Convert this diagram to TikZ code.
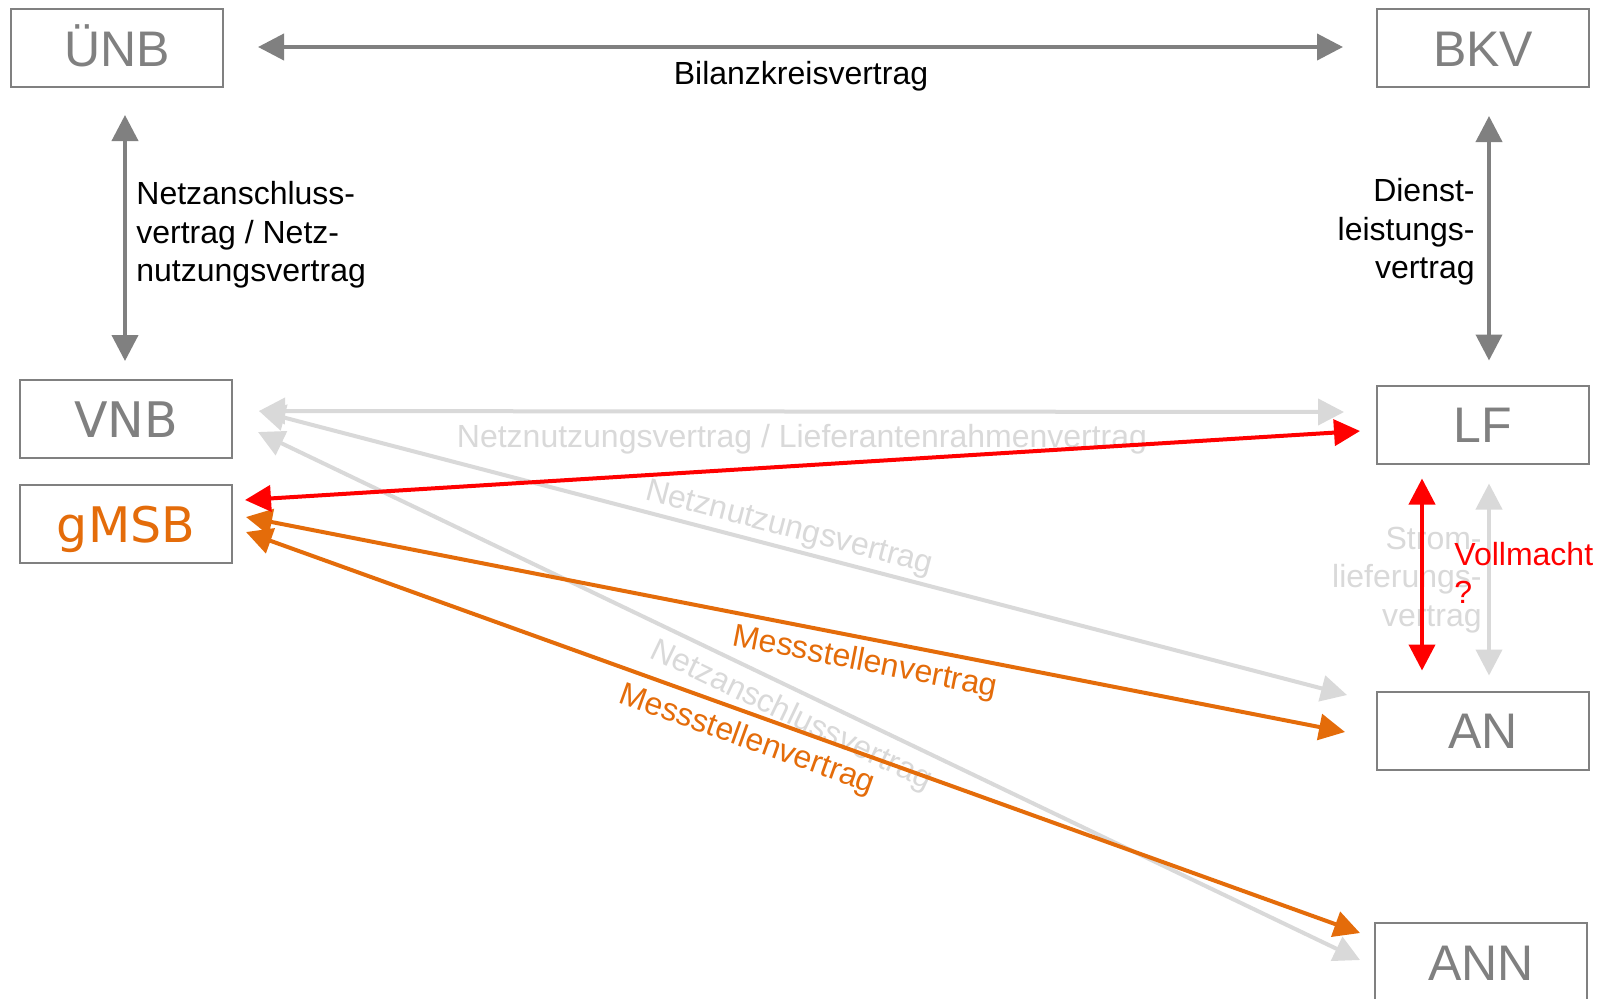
\documentclass[tikz,border=0pt]{standalone}
\usepackage{fontspec}
\setmainfont{Liberation Sans}
\newfontfamily\widesans{DejaVu Sans}
\usetikzlibrary{arrows.meta,calc}
\definecolor{boxline}{RGB}{128,128,128}
\definecolor{boxtext}{RGB}{128,128,128}
\definecolor{darkarrow}{RGB}{128,128,128}
\definecolor{lightarrow}{RGB}{217,217,217}
\definecolor{msborange}{RGB}{228,108,10}
\definecolor{vollred}{RGB}{255,0,0}
\begin{document}
\begin{tikzpicture}[x=0.5pt,y=-0.5pt,
  party/.style={draw=boxline,line width=1pt,minimum width=106pt,minimum height=39pt,
    inner sep=0pt,text=boxtext,text height=18pt,text depth=0pt,
    font=\fontsize{25}{29}\selectfont},
  link/.style={line width=2pt,
    {Triangle[length=13pt,width=13pt]}-{Triangle[length=13pt,width=13pt]}},
  darklink/.style={link,draw=darkarrow},
  lightlink/.style={link,draw=lightarrow},
  redlink/.style={link,draw=vollred},
  orangelink/.style={link,draw=msborange},
  lbl/.style={inner sep=0pt,font=\fontsize{16}{19.3}\selectfont},
]
\fill[white] (0,0) rectangle (1598,998);
\useasboundingbox (0,0) rectangle (1598,998);

% market roles
\node[party] (unb) at (117,48) {ÜNB};
\node[party] (bkv) at (1483,48) {BKV};
\node[party,font=\widesans\fontsize{24.5}{29}\selectfont] (vnb) at (126,419) {VNB};
\node[party,text=msborange,font=\widesans\fontsize{24.5}{29}\selectfont] (gmsb) at (126,524) {gMSB};
\node[party] (lf) at (1483,424.5) {LF};
\node[party] (an) at (1483,730.5) {AN};
\node[party] (ann) at (1481,962) {ANN};

% upper contracts
\draw[darklink] ($(unb.east)+(34,-1)$) -- ($(bkv.west)+(-33,-1)$);
\node[lbl] (bkvlabel) at (801,76) {Bilanzkreisvertrag};

\draw[darklink] ($(unb.south)+(8,27)$) -- ($(vnb.north)+(-1,-18)$);
\node[lbl,anchor=west,align=left] (nalabel) at (136,235)
  {Netzanschluss-\\vertrag / Netz-\\nutzungsvertrag};

\draw[darklink] ($(bkv.south)+(6,28)$) -- ($(lf.north)+(6,-24)$);
\node[lbl,anchor=east,align=right] (dlabel) at (1475,232)
  {Dienst-\\leistungs-\\vertrag};

% grid contracts (light)
\draw[lightlink] ($(vnb.east)+(26,-8)$) -- ($(lf.west)+(-32,-12.5)$);
\node[lbl,text=lightarrow] (nnlabel) at (802,439)
  {Netznutzungsvertrag / Lieferantenrahmenvertrag};

\draw[lightlink] ($(vnb.east)+(26,-8)$) -- ($(an.west)+(-29,-35.5)$);
\node[lbl,text=lightarrow,rotate=-14.6] (nnlabeltwo) at (789,529) {Netznutzungsvertrag};

\draw[lightlink] ($(vnb.east)+(25,13)$) -- ($(ann.west)+(-14,-2)$);
\node[lbl,text=lightarrow,rotate=-25.6] (nalabeltwo) at (791,716) {Netzanschlussvertrag};

\draw[lightlink] ($(lf.south)+(6,19)$) -- ($(an.north)+(6,-15)$);
\node[lbl,text=lightarrow,anchor=east,align=right] (slabel) at (1482,580)
  {Strom-\\lieferungs-\\vertrag};

% metering contracts
\draw[orangelink] ($(gmsb.east)+(13,-7)$) -- ($(an.west)+(-31,1.5)$);
\node[lbl,text=msborange,rotate=-11.05] (mslabel) at (865,663) {Messstellenvertrag};

\draw[orangelink] ($(gmsb.east)+(13,8)$) -- ($(ann.west)+(-14,-29)$);
\node[lbl,text=msborange,rotate=-19.8] (mslabeltwo) at (747,740) {Messstellenvertrag};

% power of attorney
\draw[redlink] ($(gmsb.east)+(12,-24)$) -- ($(lf.west)+(-16,6.5)$);
\draw[redlink] ($(lf.south)+(-61,14)$) -- ($(an.north)+(-61,-20)$);
\node[lbl,text=vollred,anchor=west,align=left] (vlabel) at (1454,573) {Vollmacht\\?};
\end{tikzpicture}
\end{document}
